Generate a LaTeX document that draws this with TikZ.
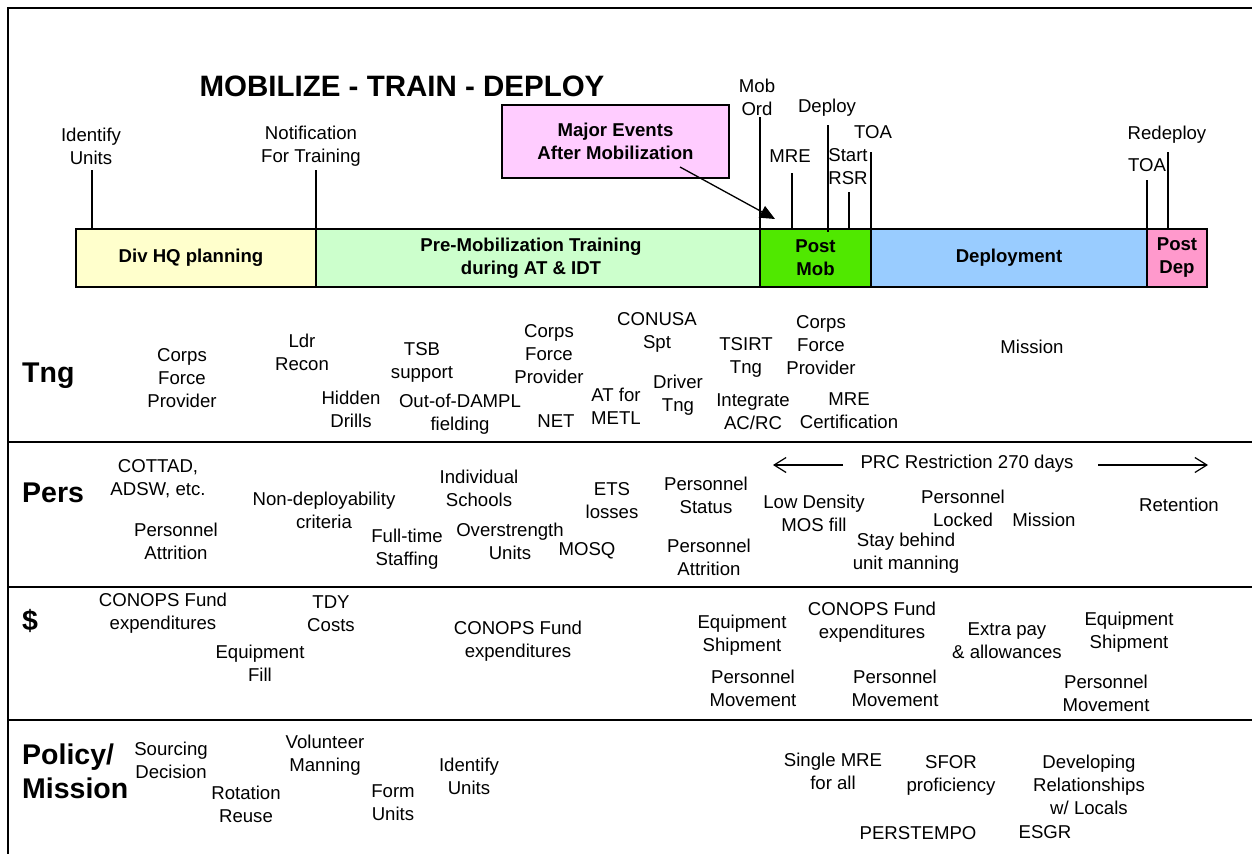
\documentclass[tikz,border=0pt]{standalone}
\usepackage{fontspec}
\setmainfont{Liberation Sans}
\usetikzlibrary{arrows.meta}
\definecolor{cDiv}{RGB}{255,255,204}
\definecolor{cPre}{RGB}{204,255,204}
\definecolor{cPost}{RGB}{80,232,0}
\definecolor{cDep}{RGB}{153,204,255}
\definecolor{cPDep}{RGB}{255,153,204}
\definecolor{cBox}{RGB}{255,204,255}
\tikzset{
  txt/.style={font=\fontsize{18.6}{23}\selectfont, align=center, inner sep=0pt, outer sep=0pt},
  rowlbl/.style={font=\fontsize{28.5}{34}\selectfont\bfseries, align=left, inner sep=0pt, anchor=west},
  seg/.style={draw, line width=1.4pt, inner sep=0pt, outer sep=0pt, minimum height=58pt,
    font=\fontsize{18.6}{23}\selectfont\bfseries, align=center},
  tick/.style={line width=1.3pt},
  frameline/.style={line width=2pt},
  sepline/.style={line width=1.8pt},
  prcarrow/.style={line width=1.2pt, -{Straight Barb[length=12pt,width=15pt]}},
}
\begin{document}
\begin{tikzpicture}[x=1pt,y=-1pt]
\fill[white] (0,0) rectangle (1252,854);
\useasboundingbox (0,0) rectangle (1252,854);
% frame
\coordinate (fTL) at (8,8);
\coordinate (fTR) at (1252,8);
\coordinate (fBL) at (8,854);
\draw[frameline] (fTR) -- (fTL) -- (fBL);
% separators
\coordinate (s1L) at (8,442);  \coordinate (s1R) at (1252,442);
\coordinate (s2L) at (8,587);  \coordinate (s2R) at (1252,587);
\coordinate (s3L) at (8,720);  \coordinate (s3R) at (1252,720);
\draw[sepline] (s1L) -- (s1R);
\draw[sepline] (s2L) -- (s2R);
\draw[sepline] (s3L) -- (s3R);

% title
\node (title) [font=\fontsize{29.5}{34}\selectfont\bfseries, inner sep=0pt] at (402,86) {MOBILIZE - TRAIN - DEPLOY};

% timeline segments
\node (segDiv)  [seg, fill=cDiv,  minimum width=240pt] at (196,258) {Div HQ planning\hspace*{10pt}};
\node (segPre)  [seg, fill=cPre,  minimum width=444pt] at (538,258) {Pre-Mobilization Training\hspace*{14pt}\\during AT \& IDT\hspace*{14pt}};
\node (segPost) [seg, fill=cPost, minimum width=111pt] at (815.5,258) {Post\\Mob};
\node (segDep)  [seg, fill=cDep,  minimum width=276pt] at (1009,258) {Deployment};
\node (segPDep) [seg, fill=cPDep, minimum width=60pt]  at (1177,258) {Post\\Dep};

% top labels and ticks
\node (lIdU) [txt] at (91,146) {Identify\\Units};
\coordinate (tIdU) at (92,170);
\draw[tick] (tIdU) -- (tIdU |- segDiv.north);

\node (lNot) [txt] at (311,146) {Notification\\For Training};
\coordinate (tNot) at (316,170);
\draw[tick] (tNot) -- (tNot |- segPre.north);

\node (lMob) [txt] at (757,97) {Mob\\Ord};
\coordinate (tMob) at (760,117);
\draw[tick] (tMob) -- (tMob |- segPost.north);

\node (lDeploy) [txt] at (827,108) {Deploy};
\coordinate (tDeploy) at (828,125);
\coordinate (tDeployB) at (828,232);
\draw[tick] (tDeploy) -- (tDeployB);

\node (lMRE) [txt] at (790,156) {MRE};
\coordinate (tMRE) at (792,173);
\draw[tick] (tMRE) -- (tMRE |- segPost.north);

\node (lRSR) [txt] at (848,167) {Start\\RSR};
\coordinate (tRSR) at (849,192);
\draw[tick] (tRSR) -- (tRSR |- segPost.north);

\node (lTOA) [txt] at (873,132) {TOA};
\coordinate (tTOA) at (871,152);
\draw[tick] (tTOA) -- (tTOA |- segDep.north);

\node (lRedep) [txt] at (1167,135) {Redeploy};
\coordinate (tRedep) at (1168,152);
\draw[tick] (tRedep) -- (tRedep |- segPDep.north);

\node (lTOA2) [txt] at (1147,165) {TOA};
\coordinate (tTOA2) at (1147,180);
\draw[tick] (tTOA2) -- (tTOA2 |- segPDep.north);

% major events box
\node (mbox) [draw, line width=1.3pt, fill=cBox, minimum width=227pt, minimum height=73pt,
  inner sep=0pt, font=\fontsize{18.6}{23}\selectfont\bfseries, align=center] at (615.5,141.5)
  {Major Events\\After Mobilization};
\coordinate (aStart) at (680,167);
\coordinate (aEnd) at (775,219);
\draw[line width=1.3pt, -{Triangle[length=15pt,width=13pt]}] (aStart) -- (aEnd);

% row labels
\node (rTng)  [rowlbl] at (22,376) {Tng};
\node (rPers) [rowlbl] at (22,493) {Pers};
\node (rDol)  [rowlbl] at (22,621) {\$};
\node (rPol)  [rowlbl] at (22,771) {Policy/\\Mission};

% Tng row
\node (t1)  [txt] at (182,378) {Corps\\Force\\Provider};
\node (t2)  [txt] at (302,352) {Ldr\\Recon};
\node (t3)  [txt] at (351,409) {Hidden\\Drills};
\node (t4)  [txt] at (422,362) {TSB\\support};
\node (t5)  [txt] at (460,414) {Out-of-DAMPL\\fielding};
\node (t6)  [txt] at (549,354) {Corps\\Force\\Provider};
\node (t7)  [txt] at (556,421) {NET};
\node (t8)  [txt] at (616,406) {AT for\\METL};
\node (t9)  [txt] at (657,332) {CONUSA\\Spt};
\node (t10) [txt] at (678,395) {Driver\\Tng};
\node (t11) [txt] at (746,357) {TSIRT\\Tng};
\node (t12) [txt] at (821,345) {Corps\\Force\\Provider};
\node (t13) [txt] at (753,412) {Integrate\\AC/RC};
\node (t14) [txt] at (849,411) {MRE\\Certification};
\node (t15) [txt] at (1032,347) {Mission};

% Pers row
\node (p1)  [txt] at (158,479) {COTTAD,\\ADSW, etc.};
\node (p2)  [txt] at (176,541) {Personnel\\Attrition};
\node (p3)  [txt] at (324,510) {Non-deployability\\criteria};
\node (p4)  [txt] at (479,488) {Individual\\Schools};
\node (p5)  [txt] at (407,549) {Full-time\\Staffing};
\node (p6)  [txt] at (510,541) {Overstrength\\Units};
\node (p7)  [txt] at (612,501) {ETS\\losses};
\node (p8)  [txt] at (587,551) {MOSQ};
\node (p9)  [txt] at (706,495) {Personnel\\Status};
\node (p10) [txt] at (709,557) {Personnel\\Attrition};
\node (p11) [txt] at (814,513) {Low Density\\MOS fill};
\node (p12) [txt] at (963,508) {Personnel\\Locked};
\node (p13) [txt] at (1044,520) {Mission};
\node (p14) [txt] at (906,553) {Stay behind\\unit manning};
\node (p15) [txt] at (1179,505) {Retention};
\node (prc) [txt] at (967,464) {PRC Restriction 270 days};
\coordinate (prcL1) at (843,465);
\coordinate (prcL2) at (773,465);
\coordinate (prcR1) at (1098,465);
\coordinate (prcR2) at (1208,465);
\draw[prcarrow] (prcL1) -- (prcL2);
\draw[prcarrow] (prcR1) -- (prcR2);

% $ row
\node (d1)  [txt] at (163,613) {CONOPS Fund\\expenditures};
\node (d2)  [txt] at (331,614) {TDY\\Costs};
\node (d3)  [txt] at (260,663) {Equipment\\Fill};
\node (d4)  [txt] at (518,641) {CONOPS Fund\\expenditures};
\node (d5)  [txt] at (742,635) {Equipment\\Shipment};
\node (d6)  [txt] at (872,622) {CONOPS Fund\\expenditures};
\node (d7)  [txt] at (1007,641) {Extra pay\\\& allowances};
\node (d8)  [txt] at (1129,632) {Equipment\\Shipment};
\node (d9)  [txt] at (753,688) {Personnel\\Movement};
\node (d10) [txt] at (895,688) {Personnel\\Movement};
\node (d11) [txt] at (1106,693) {Personnel\\Movement};

% Policy row
\node (m1)  [txt] at (171,760) {Sourcing\\Decision};
\node (m2)  [txt] at (246,804) {Rotation\\Reuse};
\node (m3)  [txt] at (325,755) {Volunteer\\Manning};
\node (m4)  [txt] at (393,803) {Form\\Units};
\node (m5)  [txt] at (469,776) {Identify\\Units};
\node (m6)  [txt] at (833,771) {Single MRE\\for all};
\node (m7)  [txt] at (951,775) {SFOR\\proficiency};
\node (m8)  [txt] at (1089,785) {Developing\\Relationships\\w/ Locals};
\node (m9)  [txt] at (918,833) {PERSTEMPO};
\node (m10) [txt] at (1045,832) {ESGR};
\end{tikzpicture}
\end{document}
